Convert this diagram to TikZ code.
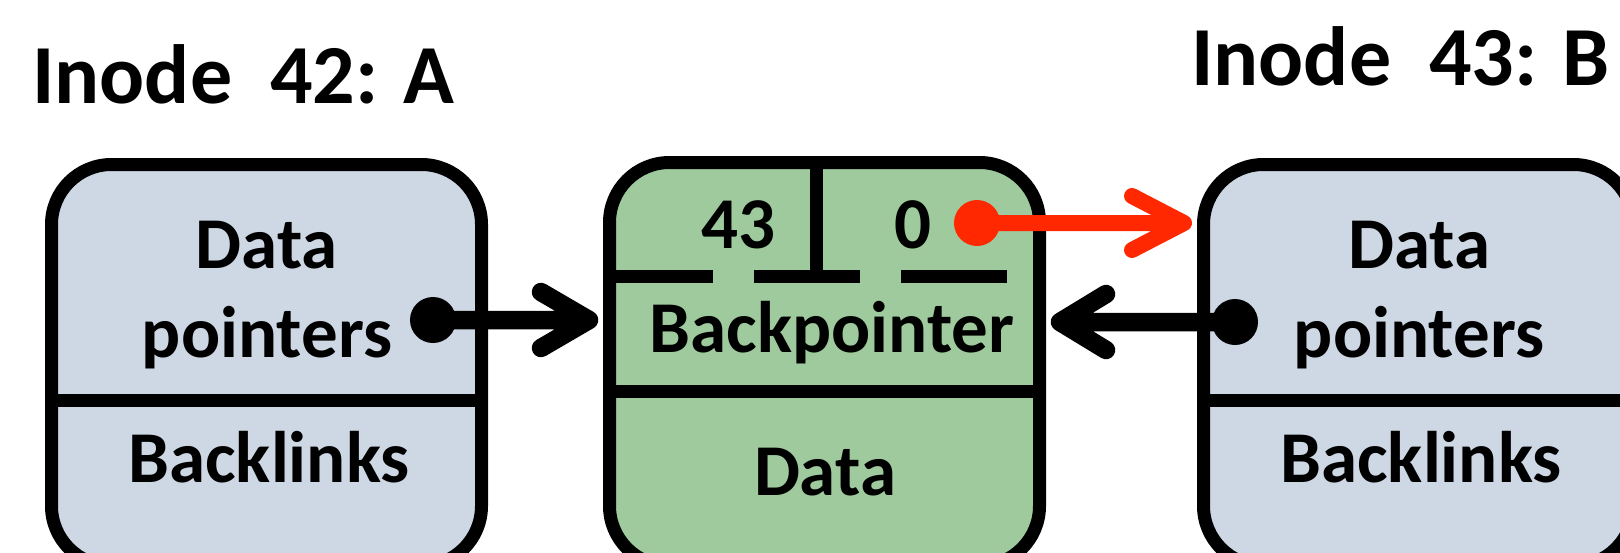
\documentclass[tikz,border=0pt]{standalone}
\usepackage{fontspec}
\setmainfont{Carlito}
\usetikzlibrary{calc}
\definecolor{boxblue}{RGB}{206,216,229}
\definecolor{boxgreen}{RGB}{158,202,157}
\definecolor{ptrred}{RGB}{255,40,0}
\tikzset{
  box/.style={draw=black, line width=13pt, rounded corners=60pt, minimum width=430pt, inner sep=0pt},
  divline/.style={draw=black, line width=13pt},
  txt/.style={font=\fontsize{73}{89}\selectfont\bfseries, anchor=base, inner sep=0pt},
  ttl/.style={font=\fontsize{84}{100}\selectfont\bfseries, anchor=base west, inner sep=0pt},
  dot/.style={circle, fill=black, minimum size=46pt, inner sep=0pt},
  reddot/.style={circle, fill=ptrred, minimum size=46pt, inner sep=0pt},
  conn/.style={draw=black, line width=18.5pt, line cap=round, line join=round},
  redconn/.style={draw=ptrred, line width=16pt, line cap=round, line join=round}
}
\begin{document}
\begin{tikzpicture}[x=1pt,y=-1pt]
\useasboundingbox (0,0) rectangle (1620,552);
% boxes
\node[box, fill=boxblue, minimum height=401.5pt] (A) at (266.5,365.25) {};
\node[box, fill=boxgreen, minimum height=403.5pt] (M) at (824.5,364.25) {};
\node[box, fill=boxblue, minimum height=401.5pt] (B) at (1418.5,365.25) {};
% dividers
\draw[divline] (51.5,400) -- (481.5,400);
\draw[divline] (1203.5,400) -- (1633.5,400);
\draw[divline] (609.5,391) -- (1039.5,391);
\draw[divline] (816.5,162.5) -- (816.5,276.5);
\draw[divline] (609.5,276.5) -- (713,276.5);
\draw[divline] (754,276.5) -- (860,276.5);
\draw[divline] (901,276.5) -- (1007,276.5);
% titles
\node[ttl] (tA) at (32,103) {Inode\ \ 42: A};
\node[ttl] (tB) at (1191,85) {Inode\ \ 43: B};
% texts
\node[txt] (A1) at (267,268) {Data};
\node[txt] (A2) at (267,357) {pointers};
\node[txt] (A3) at (269,482) {Backlinks};
\node[txt] (B1) at (1419,268) {Data};
\node[txt] (B2) at (1419,357) {pointers};
\node[txt] (B3) at (1421,482) {Backlinks};
\node[txt] (n43) at (738,248) {43};
\node[txt] (n0) at (913,248) {0};
\node[txt] (bp) at (832,352) {Backpointer};
\node[txt] (md) at (825,495) {Data};
% dots
\node[dot] (dA) at (433,320) {};
\node[dot] (dB) at (1235,322) {};
\node[reddot] (dR) at (977,223) {};
% connectors with open chevron heads
\draw[conn] (dA.center) -- ($(M.west |- dA.center)+(-14,0)$) coordinate (hA)
  -- ++(-48,-28) (hA) -- ++(-48,28);
\draw[conn] (dB.center) -- ($(M.east |- dB.center)+(14,0)$) coordinate (hB)
  -- ++(46,-28) (hB) -- ++(46,28);
\draw[redconn] (dR.center) -- ($(B.west |- dR.center)+(-13,0)$) coordinate (hR)
  -- ++(-52,-27) (hR) -- ++(-52,27);
\end{tikzpicture}
\end{document}
